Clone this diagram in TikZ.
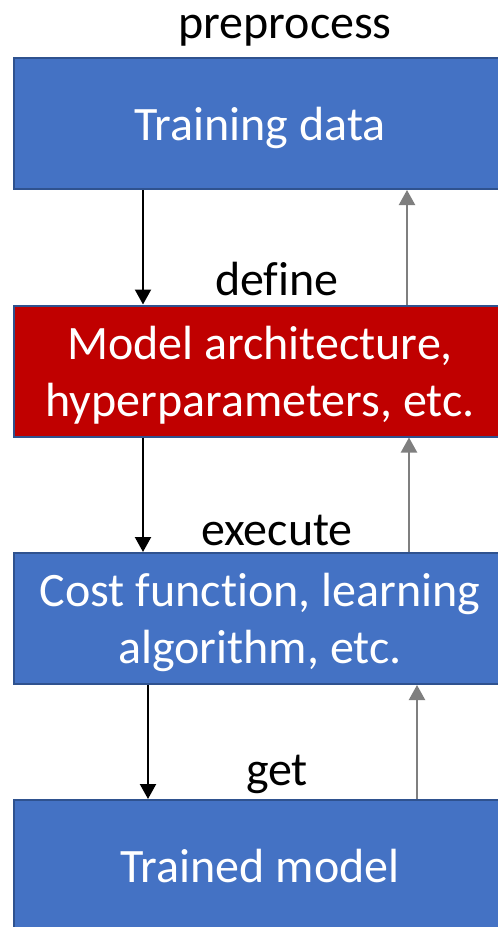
\documentclass[tikz,border=0pt]{standalone}
\usepackage{fontspec}
\setmainfont{Carlito}[Ligatures=NoCommon]
\usetikzlibrary{arrows.meta,calc,positioning}
\definecolor{boxblue}{HTML}{4472C4}
\definecolor{edgeblue}{HTML}{2F528F}
\definecolor{boxred}{HTML}{C00000}
\definecolor{backgray}{HTML}{7F7F7F}
% line strut: 45pt above and 12pt below the baseline of each text line
\newcommand{\lstrut}{\rule[-12pt]{0pt}{57pt}}
\tikzset{
  stage/.style     = {draw=edgeblue, line width=2pt, fill=boxblue, text=white,
                      minimum width=492pt, minimum height=131pt, inner sep=0pt,
                      align=center, font=\fontsize{48}{57}\selectfont},
  redstage/.style  = {stage, fill=boxred},
  steplabel/.style = {anchor=base, font=\fontsize{48}{57}\selectfont},
  forward/.style   = {-{Triangle[length=15pt,width=16pt]}, line width=2.2pt},
  backward/.style  = {-{Triangle[length=15pt,width=16pt]}, line width=2.2pt, backgray},
}

\begin{document}
\begin{tikzpicture}[x=1pt,y=1pt]
  \useasboundingbox (0,0) rectangle (498,-927);
  \begin{scope}
    \clip (0,0) rectangle (498,-927);
    \node[stage]    (data)  at (260,-123.5) {\lstrut Training data};
    \node[redstage] (model) at (260,-371)   {\lstrut Model architecture,\\\lstrut hyperparameters, etc.};
    \node[stage]    (cost)  at (260,-618.5) {\lstrut Cost function, learning\\\lstrut algorithm, etc.};
    \node[stage]    (final) at (260,-865.5) {\lstrut Trained model};
  \end{scope}

  \node[steplabel] (pre) at (285,-38)  {preprocess};
  \node[steplabel] (def) at (277,-295) {define};
  \node[steplabel] (exe) at (277,-545) {execute};
  \node[steplabel] (get) at (277,-785) {get};

  % forward steps on the left
  \draw[forward] ([xshift=-117pt]data.south)  -- ([xshift=-117pt]model.north);
  \draw[forward] ([xshift=-117pt]model.south) -- ([xshift=-117pt]cost.north);
  \draw[forward] ([xshift=-112pt]cost.south)  -- ([xshift=-112pt]final.north);
  % going back on the right
  \draw[backward] ([xshift=147pt]model.north) -- ([xshift=147pt]data.south);
  \draw[backward] ([xshift=149pt]cost.north)  -- ([xshift=149pt]model.south);
  \draw[backward] ([xshift=157pt]final.north) -- ([xshift=157pt]cost.south);
\end{tikzpicture}
\end{document}
